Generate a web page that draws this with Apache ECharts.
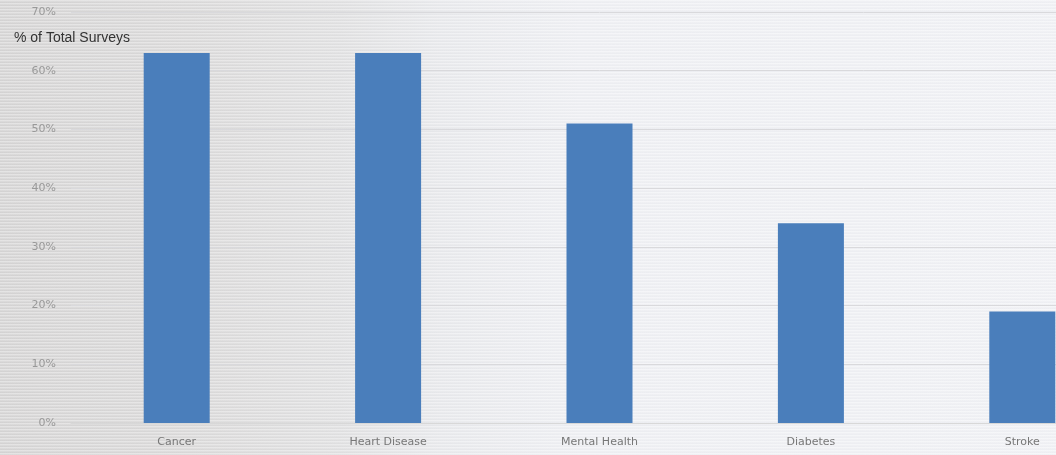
<!DOCTYPE html>
<html>
<head>
<meta charset="utf-8">
<script src="https://cdn.jsdelivr.net/npm/echarts@6/dist/echarts.min.js"></script>
<style>
html, body { margin: 0; padding: 0; overflow: hidden; width: 1056px; height: 455px; }
#chart {
	width: 1128px; height: 455px;
	background:
		repeating-linear-gradient(to bottom, rgba(255,255,255,0.35) 0px, rgba(255,255,255,0.35) 1px, rgba(0,0,0,0.025) 2px, rgba(0,0,0,0) 3px),
		linear-gradient(to right, #d6d5d5 0px, #dbdada 190px, #e1e1e2 340px, #e9eaed 440px, #eff0f4 580px, #f1f2f6 1128px);
}
</style>
</head>
<body>
<div id="chart"></div>
<script>
var categories = ['Cancer', 'Heart Disease', 'Mental Health', 'Diabetes', 'Stroke'];
var percentValues = [63, 63, 51, 34, 19];
var yTicks = [0, 10, 20, 30, 40, 50, 60, 70];

var myChart = echarts.init(document.getElementById('chart'));
var option = {
	backgroundColor: 'transparent',
	animation: false,
	title: {
		text: '% of Total Surveys',
		left: 9,
		top: 26,
		textStyle: {
			fontFamily: 'Liberation Sans',
			fontSize: 14,
			fontWeight: 'normal',
			color: '#333'
		}
	},
	grid: {
		left: 71,
		top: 12,
		right: 0,
		bottom: 32,
		containLabel: false
	},
	xAxis: {
		type: 'category',
		data: categories,
		axisLine: { lineStyle: { color: '#d8d8d8' } },
		axisTick: { show: false },
		axisLabel: {
			color: '#777',
			fontSize: 11,
			fontFamily: 'DejaVu Sans',
			margin: 14
		}
	},
	yAxis: {
		type: 'value',
		min: yTicks[0],
		max: yTicks[yTicks.length - 1],
		interval: 10,
		axisLine: { show: false },
		axisTick: { show: false },
		axisLabel: {
			color: '#999',
			fontSize: 11,
			fontFamily: 'DejaVu Sans',
			margin: 15,
			formatter: '{value}%'
		},
		splitLine: {
			lineStyle: { color: '#d9d9dc', width: 1 }
		}
	},
	series: [{
		name: '% of Total Surveys',
		type: 'bar',
		data: percentValues,
		barWidth: 66,
		itemStyle: { color: '#4a7ebb' }
	}]
};
myChart.setOption(option);
</script>
</body>
</html>
